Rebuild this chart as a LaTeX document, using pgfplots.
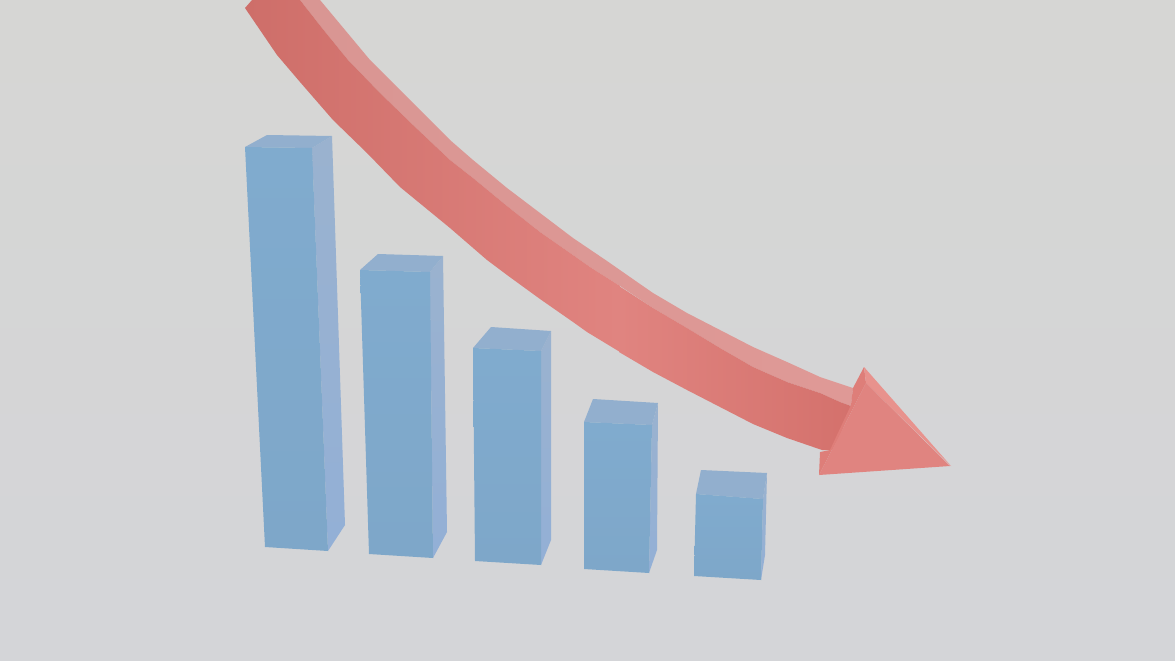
\documentclass[border=0pt]{standalone}
\usepackage{pgfplots}
\pgfplotsset{compat=1.18}
\definecolor{bgtop}{HTML}{D6D6D4}
\definecolor{bgbot}{HTML}{D4D5D8}
\definecolor{frontT}{HTML}{80ABCE}
\definecolor{frontB}{HTML}{7EA7C9}
\definecolor{sideT}{HTML}{9AB2CF}
\definecolor{sideB}{HTML}{93B0D6}
\definecolor{topface}{HTML}{92AFCE}
\definecolor{arrowA}{HTML}{CE6E69}
\definecolor{arrowB}{HTML}{E08480}
\definecolor{arrowC}{HTML}{D4716C}
\definecolor{bandA}{HTML}{D99693}
\definecolor{bandB}{HTML}{DF9996}
\definecolor{headF}{HTML}{E08480}
\definecolor{headT}{HTML}{E8928D}
\definecolor{headL}{HTML}{DE7E79}
\pgfplotsset{
  front/.style={draw=none,top color=frontT,bottom color=frontB},
  side/.style={draw=none,top color=sideT,bottom color=sideB},
  topf/.style={draw=none,fill=topface},
}
\begin{document}
\begin{tikzpicture}
\begin{axis}[
  hide axis,
  scale only axis,
  width=1175pt,
  height=661pt,
  xmin=0,xmax=1175,
  ymin=0,ymax=661,
  y dir=reverse,
  clip=true,
]
% background
\addplot[draw=none,top color=bgtop,bottom color=bgbot] coordinates {(0,0)(1175,0)(1175,661)(0,661)} -- cycle;
% bar 1
\addplot[side] coordinates {(312,148)(332,136)(345,525)(328,551)} -- cycle;
\addplot[topf] coordinates {(245,147)(267,135)(332,136)(312,148)} -- cycle;
\addplot[front] coordinates {(245,147)(312,148)(328,551)(265,547)} -- cycle;
% bar 2
\addplot[side] coordinates {(430,272)(443,256)(447,532)(433,558)} -- cycle;
\addplot[topf] coordinates {(360,270)(378,254)(443,256)(430,272)} -- cycle;
\addplot[front] coordinates {(360,270)(430,272)(433,558)(369,554)} -- cycle;
% bar 3
\addplot[side] coordinates {(541,351)(551,331)(551,540)(541,565)} -- cycle;
\addplot[topf] coordinates {(473,348)(491,327)(551,331)(541,351)} -- cycle;
\addplot[front] coordinates {(473,348)(541,351)(541,565)(475,561)} -- cycle;
% bar 4
\addplot[side] coordinates {(652,425)(658,403)(657,550)(649,573)} -- cycle;
\addplot[topf] coordinates {(584,422)(593,399)(658,403)(652,425)} -- cycle;
\addplot[front] coordinates {(584,422)(652,425)(649,573)(584,569)} -- cycle;
% bar 5
\addplot[side] coordinates {(763,499)(767,473)(765,555)(761,580)} -- cycle;
\addplot[topf] coordinates {(696,494)(701,470)(767,473)(763,499)} -- cycle;
\addplot[front] coordinates {(696,494)(763,499)(761,580)(694,576)} -- cycle;
% arrow shaft: light upper band
\addplot[draw=none,left color=bandA,right color=bandB] coordinates {
 (300,0)(320,0)(345,30)(370,60)(400,90)(433,123)(450,140)(473,160)(507,188)(540,213)(573,238)(607,261)(640,284)(653,293)(687,313)(720,330)(753,347)(787,362)(820,377)(853,388)
 (851,406)(840,402)(820,393)(787,382)(753,367)(720,348)(687,328)(653,308)(620,286)(590,267)(573,255)(540,232)(507,206)(473,178)(450,160)(413,125)(380,93)(348,60)(322,28)} -- cycle;
% arrow shaft: main face, left part
\addplot[draw=none,left color=arrowA,right color=arrowB] coordinates {
 (245,8)(252,0)(300,0)(322,28)(348,60)(380,93)(413,125)(450,160)(473,178)(507,206)(540,232)(573,255)(590,267)(620,286)
 (620,352)(587,332)(573,322)(540,299)(507,275)(487,260)(450,228)(400,187)(367,153)(333,120)(300,82)(277,55)} -- cycle;
% arrow shaft: main face, right part
\addplot[draw=none,left color=arrowB,right color=arrowC] coordinates {
 (619,286)(653,308)(687,328)(720,348)(753,367)(787,382)(820,393)(840,402)(851,406)
 (835,450)(822,450)(787,438)(753,424)(720,407)(687,390)(653,372)(619,352)} -- cycle;
% arrow head
\addplot[draw=none,fill=headL] coordinates {(864,367)(853,388)(851,405)(830,450)(820,452)(819,475)(866,383)} -- cycle;
\addplot[draw=none,fill=headT] coordinates {(864,367)(951,466)(866,383)} -- cycle;
\addplot[draw=none,fill=headF] coordinates {(866,383)(950,466)(819,475)} -- cycle;
\end{axis}
\end{tikzpicture}
\end{document}
